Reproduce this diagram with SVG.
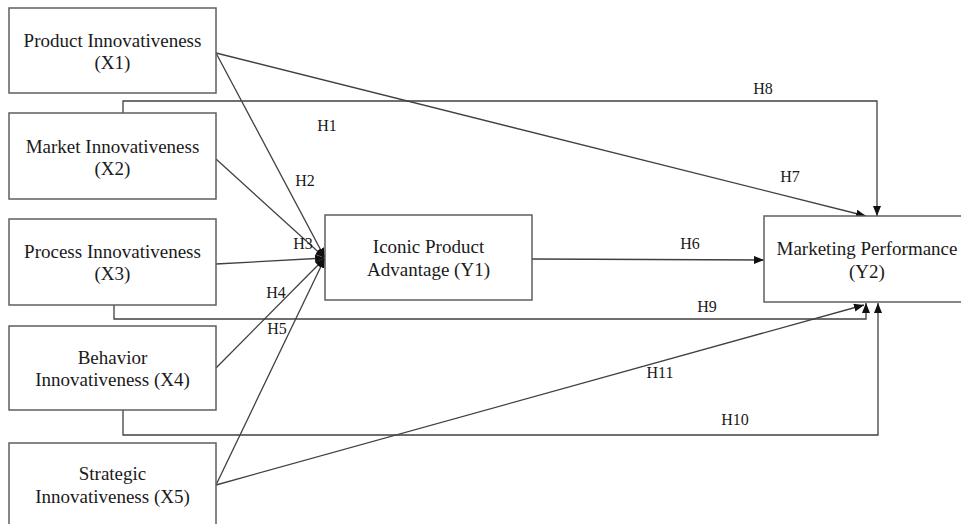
<svg xmlns="http://www.w3.org/2000/svg" width="961" height="524" viewBox="0 0 961 524">
  <style>
    .box { fill: #ffffff; stroke: #5f5f5f; stroke-width: 1.5; }
    .lbl { font-family: "Liberation Serif", "Times New Roman", serif; font-size: 19px; fill: #1a1a1a; text-anchor: middle; }
    .hyp { font-family: "Liberation Serif", "Times New Roman", serif; font-size: 16px; fill: #1a1a1a; text-anchor: middle; }
    .edge { fill: none; stroke: #404040; stroke-width: 1.3; }
  </style>
  <defs>
    <marker id="arrow" markerUnits="userSpaceOnUse" markerWidth="11" markerHeight="9" refX="10" refY="4" orient="auto">
      <path d="M0,0 L10,4 L0,8 z" fill="#111111"/>
    </marker>
  </defs>
  <rect width="961" height="524" fill="#ffffff"/>

  <!-- connectors -->
  <g id="connectors">
    <!-- to Iconic Product Advantage -->
    <line class="edge" x1="216" y1="53" x2="325" y2="258" marker-end="url(#arrow)"/>
    <line class="edge" x1="216" y1="159" x2="325" y2="258" marker-end="url(#arrow)"/>
    <line class="edge" x1="216" y1="264" x2="325" y2="258" marker-end="url(#arrow)"/>
    <line class="edge" x1="216" y1="368" x2="325" y2="258" marker-end="url(#arrow)"/>
    <line class="edge" x1="216" y1="485" x2="325" y2="258" marker-end="url(#arrow)"/>
    <!-- to Marketing Performance -->
    <line class="edge" x1="532" y1="259" x2="764" y2="260" marker-end="url(#arrow)"/>
    <line class="edge" x1="216" y1="53" x2="866" y2="216" marker-end="url(#arrow)"/>
    <polyline class="edge" points="123,113 123,101 877,101 877,216" marker-end="url(#arrow)"/>
    <polyline class="edge" points="114,305 114,319 866,319 866,303" marker-end="url(#arrow)"/>
    <polyline class="edge" points="123,410 123,435 878,435 878,303" marker-end="url(#arrow)"/>
    <line class="edge" x1="216" y1="485" x2="864" y2="305" marker-end="url(#arrow)"/>
  </g>

  <!-- hypothesis labels -->
  <g id="hypotheses">
    <text class="hyp" x="327" y="131">H1</text>
    <text class="hyp" x="305" y="186">H2</text>
    <text class="hyp" x="303" y="249">H3</text>
    <text class="hyp" x="276" y="298">H4</text>
    <text class="hyp" x="277" y="334">H5</text>
    <text class="hyp" x="690" y="249">H6</text>
    <text class="hyp" x="790" y="182">H7</text>
    <text class="hyp" x="763" y="94">H8</text>
    <text class="hyp" x="707" y="312">H9</text>
    <text class="hyp" x="735" y="425">H10</text>
    <text class="hyp" x="660" y="378">H11</text>
  </g>

  <!-- nodes -->
  <g id="x1">
    <rect class="box" x="9" y="8" width="207" height="85"/>
    <text class="lbl" x="112.5" y="47">Product Innovativeness</text>
    <text class="lbl" x="112.5" y="69">(X1)</text>
  </g>
  <g id="x2">
    <rect class="box" x="9" y="113" width="207" height="86"/>
    <text class="lbl" x="112.5" y="153">Market Innovativeness</text>
    <text class="lbl" x="112.5" y="175">(X2)</text>
  </g>
  <g id="x3">
    <rect class="box" x="9" y="219" width="207" height="86"/>
    <text class="lbl" x="112.5" y="258">Process Innovativeness</text>
    <text class="lbl" x="112.5" y="280">(X3)</text>
  </g>
  <g id="x4">
    <rect class="box" x="9" y="326" width="207" height="84"/>
    <text class="lbl" x="112.5" y="364">Behavior</text>
    <text class="lbl" x="112.5" y="386">Innovativeness (X4)</text>
  </g>
  <g id="x5">
    <rect class="box" x="9" y="443" width="207" height="90"/>
    <text class="lbl" x="112.5" y="480">Strategic</text>
    <text class="lbl" x="112.5" y="503">Innovativeness (X5)</text>
  </g>
  <g id="y1">
    <rect class="box" x="325" y="215" width="207" height="85"/>
    <text class="lbl" x="428.5" y="253">Iconic Product</text>
    <text class="lbl" x="428.5" y="276">Advantage (Y1)</text>
  </g>
  <g id="y2">
    <rect class="box" x="764" y="216" width="206" height="86"/>
    <text class="lbl" x="867" y="255">Marketing Performance</text>
    <text class="lbl" x="867" y="278">(Y2)</text>
  </g>
</svg>
